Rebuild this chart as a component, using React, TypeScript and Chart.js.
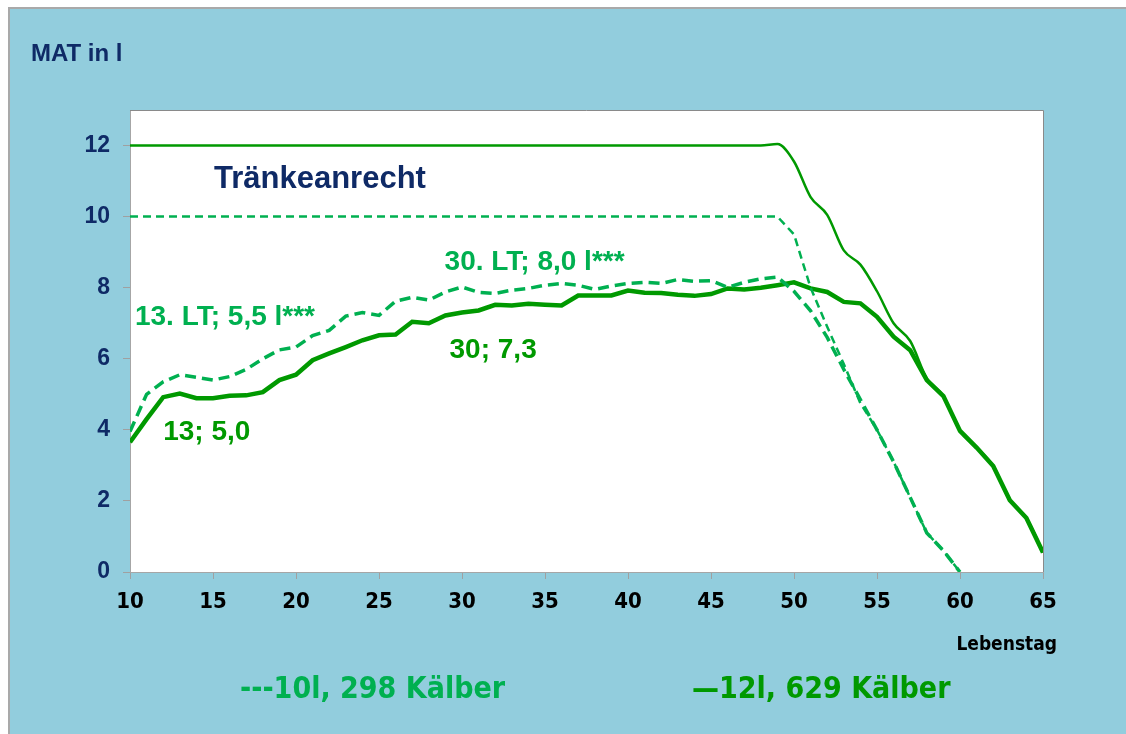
import React, { useEffect, useRef } from "react";
import { Chart, registerables } from "chart.js";

Chart.register(...registerables);

const days = [10, 11, 12, 13, 14, 15, 16, 17, 18, 19, 20, 21, 22, 23, 24, 25, 26, 27, 28, 29, 30, 31, 32, 33, 34, 35, 36, 37, 38, 39, 40, 41, 42, 43, 44, 45, 46, 47, 48, 49, 50, 51, 52, 53, 54, 55, 56, 57, 58, 59, 60, 61, 62, 63, 64, 65];

// mean intake, 10 l group (dashed), days 10..60
const intake10 = [3.95, 5.0, 5.35, 5.55, 5.48, 5.4, 5.5, 5.7, 6.0, 6.25, 6.33, 6.65, 6.8, 7.2, 7.3, 7.22, 7.62, 7.73, 7.65, 7.88, 8.02, 7.87, 7.84, 7.93, 7.98, 8.07, 8.12, 8.07, 7.95, 8.05, 8.12, 8.15, 8.12, 8.23, 8.18, 8.2, 8.01, 8.15, 8.25, 8.3, 7.9, 7.35, 6.6, 5.7, 4.85, 4.0, 3.1, 2.1, 1.1, 0.6, 0.0];

// mean intake, 12 l group (solid), days 10..65
const intake12 = [3.65, 4.3, 4.92, 5.02, 4.89, 4.89, 4.96, 4.97, 5.06, 5.4, 5.55, 5.96, 6.15, 6.33, 6.52, 6.66, 6.68, 7.04, 7.0, 7.22, 7.3, 7.36, 7.52, 7.5, 7.55, 7.52, 7.5, 7.78, 7.78, 7.78, 7.92, 7.86, 7.85, 7.8, 7.77, 7.82, 7.98, 7.95, 8.0, 8.07, 8.15, 7.98, 7.88, 7.6, 7.56, 7.18, 6.62, 6.24, 5.4, 4.95, 3.97, 3.5, 2.98, 2.02, 1.52, 0.55];

// entitlement (Tränkeanrecht), 10 l group, days 10..60
const allowance10 = [10, 10, 10, 10, 10, 10, 10, 10, 10, 10, 10, 10, 10, 10, 10, 10, 10, 10, 10, 10, 10, 10, 10, 10, 10, 10, 10, 10, 10, 10, 10, 10, 10, 10, 10, 10, 10, 10, 10, 10, 9.5, 8.0, 6.9, 5.85, 4.75, 4.0, 3.1, 2.1, 1.1, 0.6, 0.0];

// entitlement (Tränkeanrecht), 12 l group, days 10..65
const allowance12 = [12, 12, 12, 12, 12, 12, 12, 12, 12, 12, 12, 12, 12, 12, 12, 12, 12, 12, 12, 12, 12, 12, 12, 12, 12, 12, 12, 12, 12, 12, 12, 12, 12, 12, 12, 12, 12, 12, 12, 12.04, 11.55, 10.55, 10.05, 9.05, 8.65, 7.9, 7.0, 6.5, 5.45, 4.95, 3.97, 3.5, 2.98, 2.02, 1.52, 0.55];

const yTicks = [0, 2, 4, 6, 8, 10, 12];
const xTicks = [10, 15, 20, 25, 30, 35, 40, 45, 50, 55, 60, 65];

const legendLabels = ["---10l, 298 Kälber", "\u201412l, 629 Kälber"];
const annotations = [
  { text: "13. LT; 5,5 l***", x: 10.3, y: 6.95, color: "#00b050" },
  { text: "13; 5,0", x: 12.0, y: 3.72, color: "#009900" },
  { text: "30. LT; 8,0 l***", x: 28.95, y: 8.5, color: "#00b050" },
  { text: "30; 7,3", x: 29.25, y: 6.02, color: "#009900" },
];

const GREEN_DASH = "#00b050";
const GREEN_SOLID = "#009900";
const NAVY = "#0f2a66";
const NARROW = "'Liberation Sans Narrow', 'Arial Narrow', 'DejaVu Sans Condensed', sans-serif";
const SANS = "'Liberation Sans', Arial, sans-serif";

function pts(vals: number[]) {
  return vals.map((v, i) => ({ x: days[i], y: v }));
}

export default function App() {
  const ref = useRef<HTMLCanvasElement | null>(null);

  useEffect(() => {
    if (!ref.current) return;
    const decor = {
      id: "decor",
      beforeDraw(chart: any) {
        const { ctx, chartArea: a } = chart;
        ctx.save();
        ctx.fillStyle = "#ffffff";
        ctx.fillRect(a.left, a.top, a.right - a.left, a.bottom - a.top);
        ctx.restore();
      },
      afterDraw(chart: any) {
        const { ctx, chartArea: a, scales } = chart;
        ctx.save();
        ctx.strokeStyle = "#8a8a8a";
        ctx.lineWidth = 1;
        ctx.beginPath();
        ctx.moveTo(a.left, a.top + 0.5);
        ctx.lineTo(a.right + 0.5, a.top + 0.5);
        ctx.lineTo(a.right + 0.5, a.bottom);
        ctx.stroke();

        ctx.textBaseline = "alphabetic";
        ctx.textAlign = "left";
        ctx.fillStyle = NAVY;
        ctx.font = `bold 24px ${SANS}`;
        ctx.fillText("MAT in l", 21, 52);
        ctx.font = `bold 31px ${SANS}`;
        ctx.fillText("Tränkeanrecht", 204, 179);

        ctx.font = `bold 28px ${SANS}`;
        for (const an of annotations) {
          ctx.fillStyle = an.color;
          ctx.fillText(an.text, scales.x.getPixelForValue(an.x), scales.y.getPixelForValue(an.y));
        }

        ctx.fillStyle = "#000000";
        ctx.font = `bold 19px ${NARROW}`;
        ctx.textAlign = "right";
        ctx.fillText("Lebenstag", 1047, 641);

        ctx.textAlign = "left";
        ctx.font = `bold 30px ${NARROW}`;
        ctx.fillStyle = GREEN_DASH;
        ctx.fillText(legendLabels[0], 230, 689);
        ctx.fillStyle = GREEN_SOLID;
        ctx.fillText(legendLabels[1], 682, 689);
        ctx.restore();
      },
    };

    const chart = new Chart(ref.current, {
      type: "line",
      data: {
        datasets: [
          {
            label: "Tränkeanrecht 12l",
            data: pts(allowance12),
            borderColor: GREEN_SOLID,
            borderWidth: 2.5,
            pointRadius: 0,
            cubicInterpolationMode: "monotone",
          },
          {
            label: "Tränkeanrecht 10l",
            data: pts(allowance10),
            borderColor: GREEN_DASH,
            borderWidth: 2.5,
            borderDash: [8, 5],
            pointRadius: 0,
            tension: 0,
          },
          {
            label: legendLabels[0],
            data: pts(intake10),
            borderColor: GREEN_DASH,
            borderWidth: 3.5,
            borderDash: [11, 6],
            pointRadius: 0,
            tension: 0,
          },
          {
            label: legendLabels[1],
            data: pts(intake12),
            borderColor: GREEN_SOLID,
            borderWidth: 4.5,
            pointRadius: 0,
            tension: 0,
          },
        ],
      },
      options: {
        animation: false,
        responsive: false,
        devicePixelRatio: 1,
        layout: { padding: { left: 0, top: 101, right: 83, bottom: 122 } },
        plugins: { legend: { display: false }, tooltip: { enabled: false } },
        scales: {
          x: {
            type: "linear",
            min: 10,
            max: 65,
            afterFit(scale: any) {
              scale.height = 40;
            },
            afterBuildTicks(scale: any) {
              scale.ticks = xTicks.map((v) => ({ value: v }));
            },
            grid: { drawOnChartArea: false, tickLength: 7, color: "#a0a0a0" },
            border: { color: "#a6a6a6", width: 1 },
            ticks: {
              color: "#000000",
              font: { family: NARROW, size: 22, weight: "bold" },
              padding: 10,
              maxRotation: 0,
            },
          },
          y: {
            min: 0,
            max: 13,
            afterFit(scale: any) {
              scale.width = 120;
            },
            afterBuildTicks(scale: any) {
              scale.ticks = yTicks.map((v) => ({ value: v }));
            },
            grid: { drawOnChartArea: false, tickLength: 7, color: "#a0a0a0" },
            border: { color: "#a6a6a6", width: 1 },
            ticks: {
              color: NAVY,
              font: { family: SANS, size: 23, weight: "bold" },
              padding: 13,
            },
          },
        },
      },
      plugins: [decor],
    } as any);
    return () => chart.destroy();
  }, []);

  return (
    <div
      style={{
        position: "fixed",
        left: 8,
        top: 7,
        right: 0,
        bottom: 0,
        background: "#92cddd",
        borderLeft: "2px solid #a9a9a9",
        borderTop: "2px solid #a9a9a9",
        overflow: "hidden",
      }}
    >
      <canvas
        ref={ref}
        width={1116}
        height={725}
        style={{ position: "absolute", left: 0, top: 0, width: 1116, height: 725 }}
      />
    </div>
  );
}
